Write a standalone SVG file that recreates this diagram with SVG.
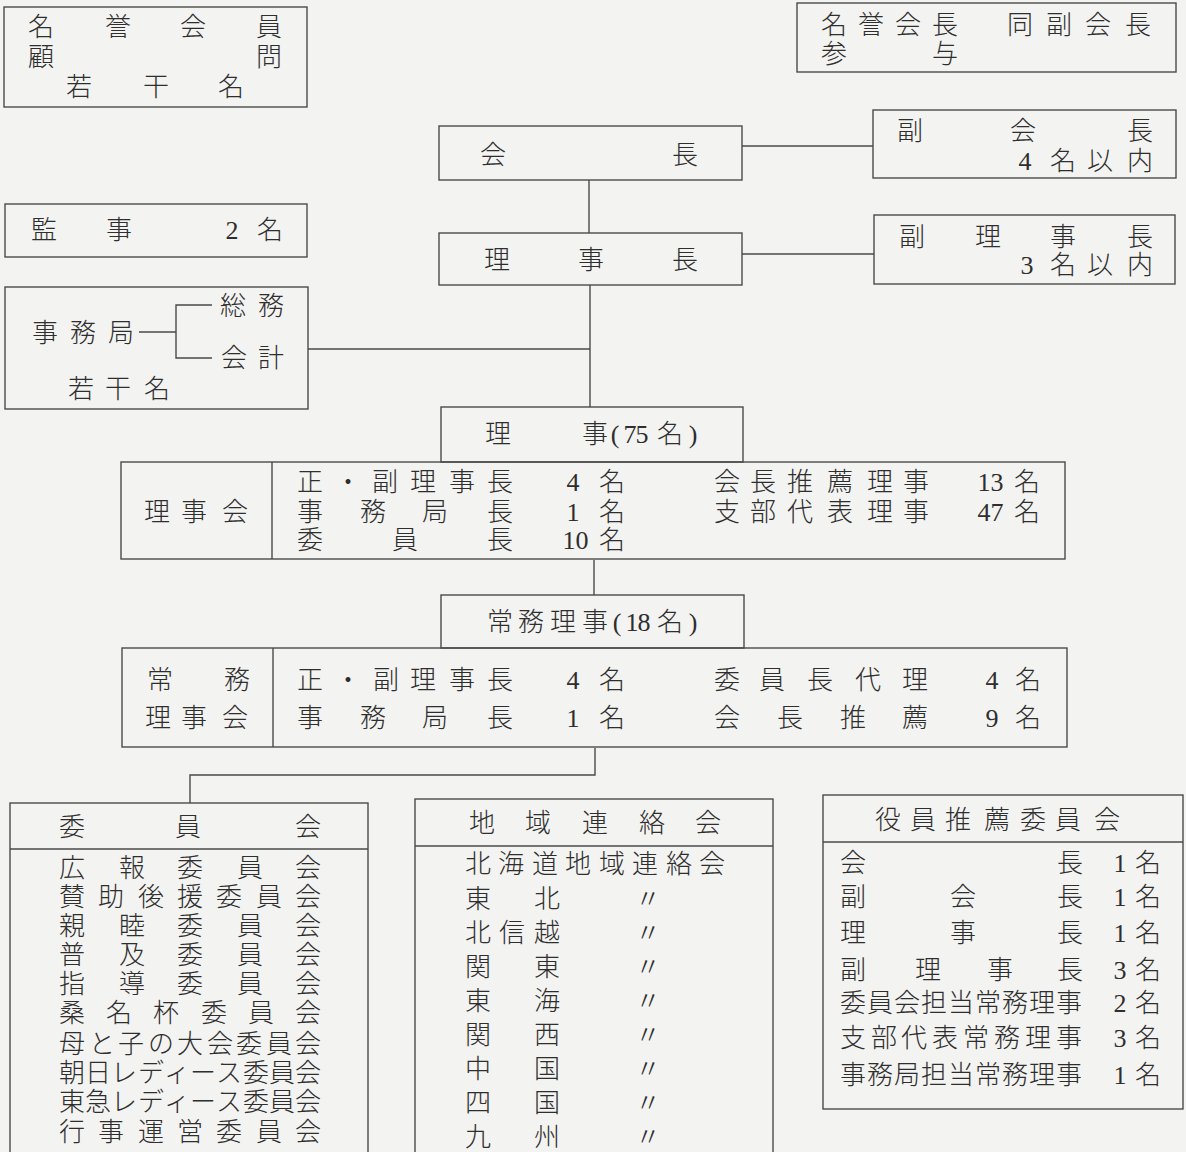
<svg xmlns="http://www.w3.org/2000/svg" width="1186" height="1152" viewBox="0 0 1186 1152">
<style>
.bg{fill:#f3f3f1}
.box{fill:none;stroke:#4a4a4a;stroke-width:1.4}
.ln{fill:none;stroke:#4a4a4a;stroke-width:1.4}
text{font-family:"Liberation Serif","Noto Sans CJK JP",serif;font-size:26px;font-weight:300;fill:#2e2e2e;text-anchor:middle;dominant-baseline:central}
</style>
<rect class="bg" x="0" y="0" width="1186" height="1152"/>

<g id="connectors">
<line class="ln" x1="742" y1="146" x2="873" y2="146"/>
<line class="ln" x1="589" y1="180" x2="589" y2="233"/>
<line class="ln" x1="742" y1="254" x2="874" y2="254"/>
<line class="ln" x1="590" y1="285" x2="590" y2="407"/>
<line class="ln" x1="308" y1="349" x2="590" y2="349"/>
<line class="ln" x1="594" y1="560" x2="594" y2="595"/>
<polyline class="ln" points="595,748 595,775 190,775 190,803"/>
</g>

<g id="meiyo-kaiin">
<rect class="box" x="4" y="7" width="303" height="100"/>
<text x="41 118 193 269" y="27">名誉会員</text>
<text x="41 269" y="57">顧問</text>
<text x="79 156 231" y="87">若干名</text>
</g>

<g id="kanji">
<rect class="box" x="5" y="204" width="302" height="53"/>
<text x="44 119 232 270" y="230">監事2名</text>
</g>

<g id="jimukyoku">
<rect class="box" x="5" y="287" width="303" height="122"/>
<text x="45 83 121" y="333">事務局</text>
<polyline class="ln" points="139,332 176,332"/>
<polyline class="ln" points="212,305 176,305 176,358 212,358"/>
<text x="233 271" y="306">総務</text>
<text x="234 271" y="358">会計</text>
<text x="81 118 157" y="389">若干名</text>
</g>

<g id="meiyo-kaicho">
<rect class="box" x="797" y="3" width="379" height="69"/>
<text x="834 871 908 945" y="25">名誉会長</text>
<text x="1020 1059 1098 1138" y="25">同副会長</text>
<text x="834 945" y="54">参与</text>
</g>

<g id="kaicho">
<rect class="box" x="439" y="126" width="303" height="54"/>
<text x="493 685" y="155">会長</text>
</g>

<g id="fuku-kaicho">
<rect class="box" x="873" y="110" width="303" height="68"/>
<text x="910 1023 1140" y="131">副会長</text>
<text x="1025 1063 1100 1140" y="161">4名以内</text>
</g>

<g id="rijicho">
<rect class="box" x="439" y="233" width="303" height="52"/>
<text x="497 591 685" y="260">理事長</text>
</g>

<g id="fuku-rijicho">
<rect class="box" x="874" y="215" width="301" height="69"/>
<text x="912 988 1063 1140" y="237">副理事長</text>
<text x="1027 1063 1100 1140" y="265">3名以内</text>
</g>

<g id="riji">
<rect class="box" x="441" y="407" width="302" height="55"/>
<text x="498 595 615 630 642 670 693" y="434">理事(75名)</text>
</g>

<g id="rijikai">
<rect class="box" x="121" y="462" width="944" height="97"/>
<line class="ln" x1="272" y1="462" x2="272" y2="559"/>
<text x="157 194 235" y="512">理事会</text>
<text x="310 348 385 423 462 500 573 612" y="482">正・副理事長4名</text>
<text x="310 373 435 500 573 612" y="512">事務局長1名</text>
<text x="310 405 500 569 582 612" y="540">委員長10名</text>
<text x="727 763 800 840 880 916 984 997 1027" y="482">会長推薦理事13名</text>
<text x="727 763 800 840 880 916 984 997 1027" y="512">支部代表理事47名</text>
</g>

<g id="jomu-riji">
<rect class="box" x="441" y="595" width="303" height="53"/>
<text x="500 531 563 595 617 632 644 670 693" y="622">常務理事(18名)</text>
</g>

<g id="jomu-rijikai">
<rect class="box" x="122" y="648" width="945" height="99"/>
<line class="ln" x1="273" y1="648" x2="273" y2="747"/>
<text x="160 237" y="680">常務</text>
<text x="158 194 235" y="718">理事会</text>
<text x="310 348 386 423 462 500 573 612" y="680">正・副理事長4名</text>
<text x="310 373 435 500 573 612" y="718">事務局長1名</text>
<text x="727 772 820 868 915 992 1028" y="680">委員長代理4名</text>
<text x="727 790 853 915 992 1028" y="718">会長推薦9名</text>
</g>

<g id="iinkai">
<rect class="box" x="10" y="803" width="358" height="360"/>
<line class="ln" x1="10" y1="849" x2="368" y2="849"/>
<text x="72 188 308" y="827">委員会</text>
<text x="72 132 190 250 308" y="868">広報委員会</text>
<text x="72 111 151 190 229 269 308" y="897">賛助後援委員会</text>
<text x="72 132 190 250 308" y="926">親睦委員会</text>
<text x="72 132 190 250 308" y="955">普及委員会</text>
<text x="72 132 190 250 308" y="984">指導委員会</text>
<text x="72 119 166 214 261 308" y="1013">桑名杯委員会</text>
<text x="72 102 131 161 190 220 249 279 308" y="1044">母と子の大会委員会</text>
<text x="72 98 124 151 177 203 229 256 282 308" y="1073">朝日レディース委員会</text>
<text x="72 98 124 151 177 203 229 256 282 308" y="1102">東急レディース委員会</text>
<text x="72 111 151 190 229 269 308" y="1132">行事運営委員会</text>
</g>

<g id="chiiki">
<rect class="box" x="415" y="799" width="358" height="364"/>
<line class="ln" x1="415" y1="846" x2="773" y2="846"/>
<text x="482 538 595 652 708" y="823">地域連絡会</text>
<text x="478 511 545 578 612 645 679 712" y="864">北海道地域連絡会</text>
<text x="478 547 648" y="899">東北〃</text>
<text x="478 512 547 648" y="933">北信越〃</text>
<text x="478 547 648" y="967">関東〃</text>
<text x="478 547 648" y="1001">東海〃</text>
<text x="478 547 648" y="1035">関西〃</text>
<text x="478 547 648" y="1069">中国〃</text>
<text x="478 547 648" y="1103">四国〃</text>
<text x="478 547 648" y="1137">九州〃</text>
</g>

<g id="yakuin-suisen">
<rect class="box" x="823" y="795" width="360" height="314"/>
<line class="ln" x1="823" y1="842" x2="1183" y2="842"/>
<text x="888 923 958 997 1033 1068 1107" y="820">役員推薦委員会</text>
<text x="853 1070 1120 1148" y="863">会長1名</text>
<text x="853 963 1070 1120 1148" y="897">副会長1名</text>
<text x="853 963 1070 1120 1148" y="933">理事長1名</text>
<text x="853 928 1000 1070 1120 1148" y="970">副理事長3名</text>
<text x="853 880 907 934 961 988 1015 1042 1069 1120 1148" y="1003">委員会担当常務理事2名</text>
<text x="853 884 914 945 976 1007 1038 1069 1120 1148" y="1038">支部代表常務理事3名</text>
<text x="853 880 907 934 961 988 1015 1042 1069 1120 1148" y="1075">事務局担当常務理事1名</text>
</g>
</svg>
